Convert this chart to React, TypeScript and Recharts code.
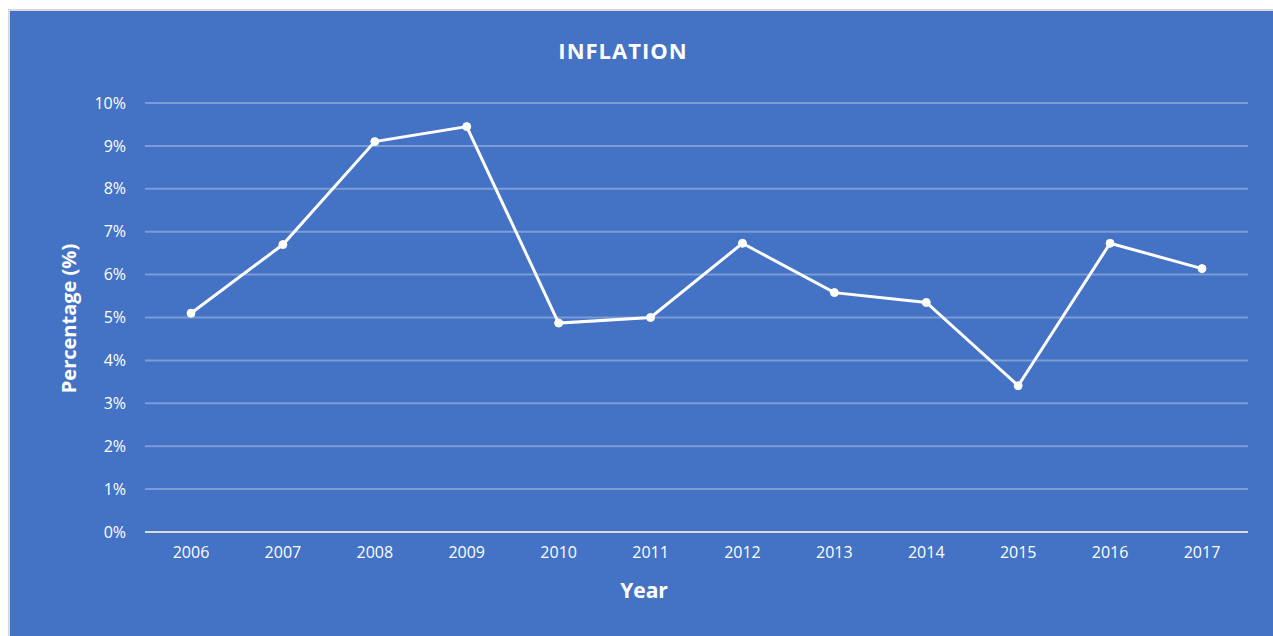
import { LineChart, Line, XAxis, YAxis, CartesianGrid } from 'recharts'

const years = ['2006', '2007', '2008', '2009', '2010', '2011', '2012', '2013', '2014', '2015', '2016', '2017']
const inflation = [5.1, 6.7, 9.1, 9.45, 4.87, 5.0, 6.73, 5.58, 5.35, 3.41, 6.73, 6.14]
const yTicks = [0, 1, 2, 3, 4, 5, 6, 7, 8, 9, 10]

const data = years.map((year, i) => ({ year, value: inflation[i] }))

const font = '"Open Sans", "DejaVu Sans", sans-serif'

export default function App() {
  return (
    <div
      style={{
        position: 'absolute',
        left: 8,
        top: 9,
        width: 1263,
        height: 625,
        background: '#4472C4',
        border: '2px solid #d9d9d9',
        fontFamily: font,
      }}
    >
      <div
        style={{
          position: 'absolute',
          left: 0,
          width: 1226,
          top: 24,
          textAlign: 'center',
          color: '#fff',
          fontWeight: 700,
          fontSize: 22,
          letterSpacing: 1,
        }}
      >
        INFLATION
      </div>
      <div
        style={{
          position: 'absolute',
          left: 0,
          width: 1268,
          top: 565,
          textAlign: 'center',
          color: '#fff',
          fontWeight: 700,
          fontSize: 21,
        }}
      >
        Year
      </div>
      <div
        style={{
          position: 'absolute',
          left: 58 - 100,
          top: 307 - 13,
          width: 200,
          textAlign: 'center',
          color: '#fff',
          fontWeight: 700,
          fontSize: 20,
          transform: 'rotate(-90deg)',
        }}
      >
        Percentage (%)
      </div>
      <LineChart
        width={1263}
        height={625}
        data={data}
        margin={{ top: 92, right: 25, left: 60, bottom: 74 }}
        style={{ position: 'absolute', left: 0, top: 0 }}
      >
        <CartesianGrid vertical={false} stroke="rgba(255,255,255,0.3)" strokeWidth={2} />
        <XAxis
          dataKey="year"
          padding={{ left: 46, right: 46 }}
          axisLine={{ stroke: '#d9d9d9', strokeWidth: 2 }}
          tickLine={false}
          tickSize={0}
          tickMargin={15}
          tick={{ fill: '#fff', fontSize: 16, fontFamily: font }}
          interval={0}
        />
        <YAxis
          width={75}
          domain={[0, 10]}
          ticks={yTicks}
          tickFormatter={(v: number) => `${v}%`}
          axisLine={false}
          tickLine={false}
          tickSize={0}
          tickMargin={19}
          tick={{ fill: '#fff', fontSize: 16, fontFamily: font }}
        />
        <Line
          type="linear"
          dataKey="value"
          stroke="#fff"
          strokeWidth={3}
          dot={{ r: 4, fill: '#fff', stroke: '#fff', strokeWidth: 1 }}
          isAnimationActive={false}
        />
      </LineChart>
    </div>
  )
}
